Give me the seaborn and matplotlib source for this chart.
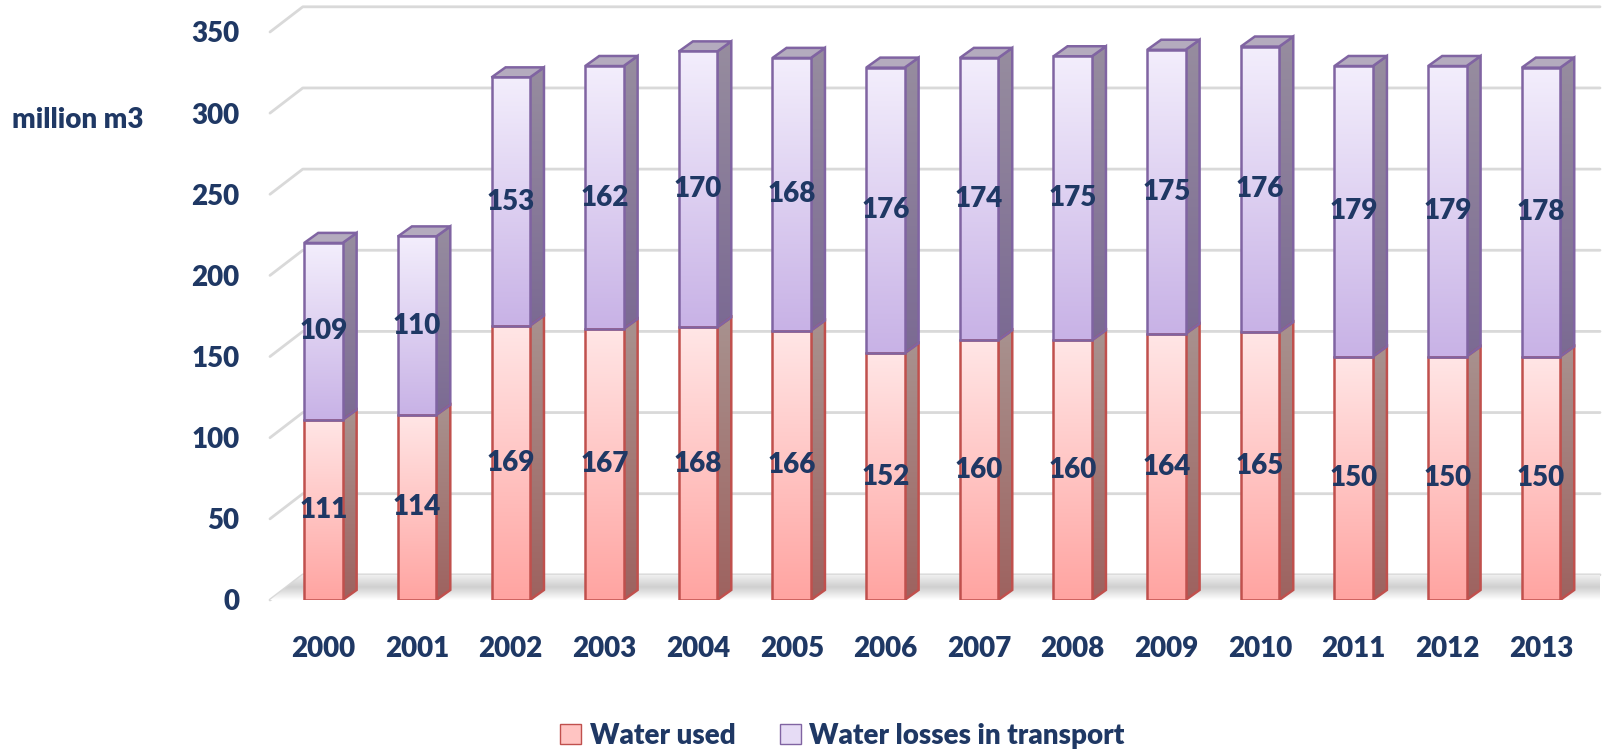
import numpy as np
import pandas as pd
import seaborn as sns
import matplotlib.pyplot as plt
from matplotlib.patches import Polygon, Patch
from matplotlib.colors import LinearSegmentedColormap

years = ['2000', '2001', '2002', '2003', '2004', '2005', '2006',
         '2007', '2008', '2009', '2010', '2011', '2012', '2013']
water_used = [111, 114, 169, 167, 168, 166, 152, 160, 160, 164, 165, 150, 150, 150]
water_losses = [109, 110, 153, 162, 170, 168, 176, 174, 175, 175, 176, 179, 179, 178]

df = pd.DataFrame({'year': years, 'used': water_used, 'losses': water_losses})

sns.set_style('white')
plt.rcParams['font.family'] = ['Lato', 'DejaVu Sans']
navy = '#1f3864'
fw = 'heavy'

fig = plt.figure(figsize=(16.2, 7.51), dpi=100)
ax = fig.add_axes([270 / 1620, 151 / 751, 1330 / 1620, 594 / 751])

# fake 3d depth in data units
bar_dx, bar_dy = 0.15, 6.2
grid_dx, grid_dy = 0.35, 15.5
xmin, xmax = -0.57, 13.63

sns.barplot(data=df, x='year', y='used', color='#ffc4c2', width=0.41,
            edgecolor='#c0504d', linewidth=1.8, ax=ax, zorder=3)
sns.barplot(data=df, x='year', y='losses', bottom=df['used'], color='#e0d5f2',
            width=0.41, edgecolor='#8064a2', linewidth=1.8, ax=ax, zorder=3)

# gridlines drawn as back wall + diagonal on left side wall
for v in range(0, 351, 50):
    ax.plot([xmin, xmin + grid_dx, xmax], [v, v + grid_dy, v + grid_dy],
            color='#d9d9d9', lw=2, zorder=0, clip_on=False)

# floor with soft shadow
floor_cmap = LinearSegmentedColormap.from_list('f', ['#ffffff', '#cfcfcf', '#f2f2f2'])
floor = Polygon([(xmin, 0), (xmin + grid_dx, grid_dy), (xmax, grid_dy), (xmax, 0)],
                closed=True, facecolor='none', edgecolor='none', zorder=1)
ax.add_patch(floor)
imf = ax.imshow(np.linspace(0, 1, 64).reshape(-1, 1), extent=[xmin, xmax, 0, grid_dy],
                origin='lower', aspect='auto', cmap=floor_cmap, zorder=1)
imf.set_clip_path(floor)

front_cmaps = [
    LinearSegmentedColormap.from_list('u', ['#ffa4a1', '#ffe6e6']),
    LinearSegmentedColormap.from_list('l', ['#c8b2e6', '#f3eefc']),
]
side_cmaps = [
    LinearSegmentedColormap.from_list('us', ['#9e625f', '#a8928f']),
    LinearSegmentedColormap.from_list('ls', ['#7b6a93', '#978d9f']),
]
edges = ['#c0504d', '#8064a2']
grad = np.linspace(0, 1, 256).reshape(-1, 1)

for i, cont in enumerate(ax.containers):
    for p in cont.patches:
        x, y = p.get_x(), p.get_y()
        w, h = p.get_width(), p.get_height()
        im = ax.imshow(grad, extent=[x, x + w, y, y + h], origin='lower',
                       aspect='auto', cmap=front_cmaps[i], zorder=3.5)
        im.set_clip_path(p)
        p.set_facecolor('none')
        p.set_zorder(4)
        side = Polygon([(x + w, y), (x + w + bar_dx, y + bar_dy),
                        (x + w + bar_dx, y + h + bar_dy), (x + w, y + h)],
                       closed=True, facecolor='none', edgecolor=edges[i],
                       lw=1.8, zorder=2.6)
        ax.add_patch(side)
        ims = ax.imshow(grad, extent=[x + w, x + w + bar_dx, y, y + h + bar_dy],
                        origin='lower', aspect='auto', cmap=side_cmaps[i], zorder=2.5)
        ims.set_clip_path(side)
        if i == 1:
            top = Polygon([(x, y + h), (x + bar_dx, y + h + bar_dy),
                           (x + w + bar_dx, y + h + bar_dy), (x + w, y + h)],
                          closed=True, facecolor='#b4abbe', edgecolor=edges[i],
                          lw=1.8, zorder=2.7)
            ax.add_patch(top)

for cont in ax.containers:
    ax.bar_label(cont, label_type='center', fontsize=20, fontweight=fw,
                 color=navy, zorder=6)

ax.set_xlim(xmin, xmax)
ax.set_ylim(0, 366)
ax.set_yticks(range(0, 351, 50))
ax.set_xlabel('')
ax.set_ylabel('')
ax.tick_params(axis='both', length=0, labelsize=20, labelcolor=navy)
ax.tick_params(axis='x', pad=26)
ax.tick_params(axis='y', pad=22)
for lab in ax.get_xticklabels() + ax.get_yticklabels():
    lab.set_fontweight(fw)
sns.despine(ax=ax, left=True, bottom=True)

fig.text(12 / 1620, 1 - 120 / 751, 'million m3', fontsize=20, fontweight=fw,
         color=navy, va='center', ha='left')

handles = [Patch(facecolor='#ffc4c2', edgecolor='#c0504d', label='Water used'),
           Patch(facecolor='#e6dcf5', edgecolor='#8064a2', label='Water losses in transport')]
leg = fig.legend(handles=handles, loc='center', bbox_to_anchor=(0.52, 1 - 736 / 751),
                 ncol=2, frameon=False, fontsize=20, handlelength=0.75,
                 handleheight=0.75, handletextpad=0.3, columnspacing=1.6)
for t in leg.get_texts():
    t.set_fontweight(fw)
    t.set_color(navy)

fig.savefig('out.png', dpi=100)
